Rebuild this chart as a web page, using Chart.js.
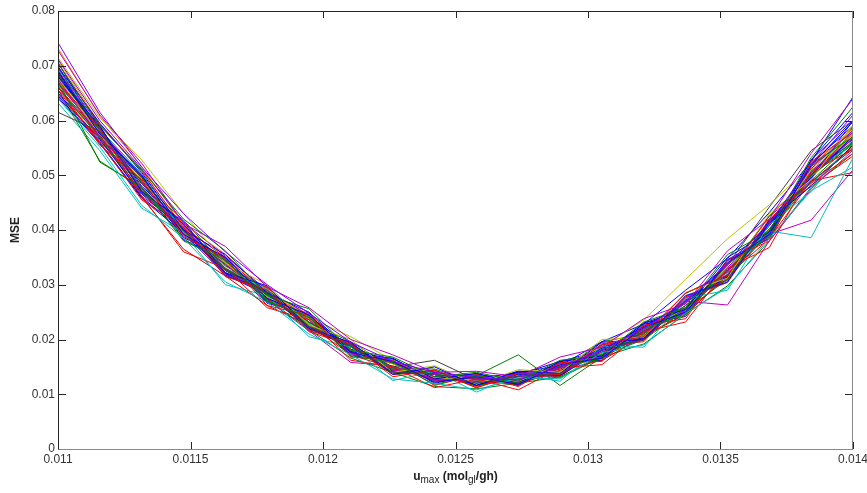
<!DOCTYPE html>
<html><head><meta charset="utf-8">
<script src="https://cdn.jsdelivr.net/npm/chart.js@4"></script>
<style>
html,body{margin:0;padding:0;background:#fff;}
#wrap{position:relative;width:867px;height:493px;}
canvas{display:block;}
#xt{position:absolute;left:58px;width:795px;top:469px;text-align:center;font:bold 12px "Liberation Sans",Arial,sans-serif;color:#222;line-height:14px;}
#xt sub{font-weight:normal;font-size:10px;line-height:0;}
</style></head>
<body>
<div id="wrap"><canvas id="c" width="867" height="493"></canvas>
<div id="xt">u<sub>max</sub> (mol<sub>gl</sub>/gh)</div></div>
<script>
// x positions of the 20 sampled u_max values
const uMax = [0.011, 0.0111579, 0.0113158, 0.0114737, 0.0116316, 0.0117895, 0.0119474, 0.0121053, 0.0122632, 0.0124211,
              0.0125789, 0.0127368, 0.0128947, 0.0130526, 0.0132105, 0.0133684, 0.0135263, 0.0136842, 0.0138421, 0.014];
const xTickValues = [0.011, 0.0115, 0.012, 0.0125, 0.013, 0.0135, 0.014];
const xTickLabels = ['0.011', '0.0115', '0.012', '0.0125', '0.013', '0.0135', '0.014'];
const yTickValues = [0, 0.01, 0.02, 0.03, 0.04, 0.05, 0.06, 0.07, 0.08];
const yTickLabels = ['0', '0.01', '0.02', '0.03', '0.04', '0.05', '0.06', '0.07', '0.08'];

// MSE curves (one per run)
const run01 = [0.0742,0.0615,0.0515,0.0430,0.0360,0.0300,0.0248,0.0195,0.0160,0.0140,0.0130,0.0126,0.0150,0.0180,0.0220,0.0270,0.0338,0.0412,0.0520,0.0610];
const run02 = [0.0615,0.0580,0.0478,0.0398,0.0326,0.0285,0.0222,0.0188,0.0140,0.0138,0.0120,0.0133,0.0138,0.0182,0.0200,0.0270,0.0310,0.0415,0.0488,0.0548];
const run03 = [0.0690,0.0575,0.0500,0.0392,0.0350,0.0275,0.0245,0.0176,0.0160,0.0122,0.0132,0.0118,0.0154,0.0166,0.0222,0.0250,0.0340,0.0392,0.0518,0.0598];
const run04 = [0.0655,0.0560,0.0455,0.0405,0.0315,0.0290,0.0218,0.0192,0.0132,0.0144,0.0112,0.0138,0.0136,0.0192,0.0205,0.0285,0.0318,0.0425,0.0485,0.0540];
const run05 = [0.0705,0.0590,0.0510,0.0420,0.0362,0.0280,0.0256,0.0180,0.0168,0.0132,0.0140,0.0124,0.0162,0.0172,0.0232,0.0258,0.0355,0.0398,0.0532,0.0625];
const run06 = [0.0640,0.0552,0.0445,0.0385,0.0305,0.0268,0.0210,0.0172,0.0128,0.0120,0.0108,0.0130,0.0128,0.0176,0.0190,0.0248,0.0295,0.0385,0.0472,0.0515];
const run07 = [0.0728,0.0610,0.0522,0.0412,0.0370,0.0296,0.0258,0.0200,0.0172,0.0140,0.0142,0.0132,0.0168,0.0186,0.0238,0.0265,0.0362,0.0420,0.0540,0.0640];
const run08 = [0.0672,0.0524,0.0478,0.0380,0.0345,0.0270,0.0240,0.0170,0.0158,0.0118,0.0134,0.0120,0.0152,0.0165,0.0220,0.0246,0.0338,0.0388,0.0520,0.0570];
const run09 = [0.0680,0.0590,0.0470,0.0415,0.0322,0.0298,0.0220,0.0195,0.0136,0.0150,0.0116,0.0142,0.0138,0.0195,0.0200,0.0280,0.0305,0.0418,0.0480,0.0555];
const run10 = [0.0662,0.0555,0.0492,0.0388,0.0348,0.0262,0.0244,0.0168,0.0162,0.0116,0.0136,0.0114,0.0158,0.0160,0.0226,0.0238,0.0345,0.0380,0.0525,0.0578];
const run11 = [0.0715,0.0605,0.0528,0.0430,0.0340,0.0300,0.0226,0.0200,0.0140,0.0152,0.0118,0.0145,0.0140,0.0200,0.0204,0.0286,0.0312,0.0430,0.0492,0.0592];
const run12 = [0.0670,0.0585,0.0462,0.0360,0.0330,0.0258,0.0236,0.0162,0.0150,0.0112,0.0128,0.0108,0.0148,0.0154,0.0214,0.0232,0.0330,0.0368,0.0505,0.0548];
const run13 = [0.0632,0.0545,0.0440,0.0395,0.0300,0.0280,0.0205,0.0186,0.0125,0.0142,0.0104,0.0135,0.0124,0.0188,0.0186,0.0275,0.0290,0.0410,0.0470,0.0565];
const run14 = [0.0698,0.0595,0.0505,0.0400,0.0355,0.0285,0.0250,0.0178,0.0165,0.0128,0.0138,0.0120,0.0160,0.0170,0.0230,0.0255,0.0350,0.0396,0.0528,0.0600];
const run15 = [0.0688,0.0585,0.0484,0.0410,0.0330,0.0286,0.0232,0.0190,0.0150,0.0162,0.0126,0.0128,0.0150,0.0176,0.0214,0.0262,0.0326,0.0402,0.0502,0.0562];
const run16 = [0.0660,0.0568,0.0470,0.0402,0.0328,0.0284,0.0226,0.0187,0.0146,0.0138,0.0134,0.0172,0.0116,0.0168,0.0210,0.0256,0.0326,0.0398,0.0500,0.0556];
const run17 = [0.0678,0.0574,0.0492,0.0396,0.0340,0.0278,0.0238,0.0180,0.0155,0.0130,0.0126,0.0124,0.0152,0.0186,0.0236,0.0310,0.0384,0.0446,0.0518,0.0585];
const run18 = [0.0668,0.0576,0.0475,0.0404,0.0328,0.0286,0.0226,0.0188,0.0144,0.0136,0.0120,0.0132,0.0138,0.0178,0.0200,0.0270,0.0263,0.0380,0.0475,0.0546];
const run19 = [0.0666,0.0580,0.0476,0.0406,0.0330,0.0290,0.0228,0.0190,0.0146,0.0138,0.0121,0.0133,0.0140,0.0182,0.0206,0.0268,0.0320,0.0398,0.0386,0.0532];
const run20 = [0.0676,0.0570,0.0490,0.0394,0.0340,0.0276,0.0236,0.0178,0.0156,0.0127,0.0128,0.0121,0.0150,0.0170,0.0214,0.0252,0.0325,0.0392,0.0418,0.0510];
const run21 = [0.0684,0.0578,0.0495,0.0398,0.0344,0.0280,0.0240,0.0182,0.0158,0.0129,0.0130,0.0122,0.0152,0.0172,0.0218,0.0258,0.0336,0.0442,0.0545,0.0600];
const run22 = [0.0650,0.0565,0.0466,0.0400,0.0322,0.0286,0.0222,0.0190,0.0142,0.0138,0.0118,0.0134,0.0136,0.0184,0.0202,0.0272,0.0314,0.0410,0.0495,0.0572];
const run23 = [0.0690,0.0580,0.0496,0.0398,0.0342,0.0274,0.0218,0.0166,0.0140,0.0114,0.0110,0.0120,0.0132,0.0170,0.0200,0.0254,0.0310,0.0396,0.0490,0.0560];
const run24 = [0.0672,0.0580,0.0478,0.0405,0.0330,0.0292,0.0240,0.0205,0.0162,0.0137,0.0132,0.0126,0.0152,0.0174,0.0218,0.0256,0.0330,0.0400,0.0510,0.0576];
const run25 = [0.0692,0.0582,0.0498,0.0396,0.0338,0.0272,0.0216,0.0158,0.0152,0.0126,0.0124,0.0122,0.0148,0.0168,0.0216,0.0254,0.0328,0.0396,0.0508,0.0566];
const run26 = [0.0704,0.0592,0.0508,0.0405,0.0350,0.0282,0.0244,0.0182,0.0158,0.0130,0.0131,0.0123,0.0154,0.0172,0.0222,0.0258,0.0336,0.0400,0.0515,0.0586];
const run27 = [0.0645,0.0560,0.0460,0.0398,0.0320,0.0284,0.0220,0.0188,0.0142,0.0136,0.0118,0.0136,0.0138,0.0186,0.0204,0.0272,0.0318,0.0412,0.0500,0.0588];
const run28 = [0.0662,0.0574,0.0460,0.0365,0.0316,0.0262,0.0226,0.0172,0.0148,0.0126,0.0124,0.0118,0.0144,0.0162,0.0206,0.0246,0.0318,0.0392,0.0505,0.0566];
const run29 = [0.0712,0.0600,0.0512,0.0414,0.0352,0.0290,0.0244,0.0186,0.0158,0.0132,0.0130,0.0124,0.0152,0.0172,0.0216,0.0256,0.0332,0.0400,0.0512,0.0582];
const run30 = [0.0666,0.0578,0.0472,0.0404,0.0326,0.0288,0.0224,0.0190,0.0144,0.0136,0.0116,0.0128,0.0130,0.0168,0.0192,0.0246,0.0298,0.0380,0.0478,0.0540];
const run31 = [0.0678,0.0588,0.0480,0.0410,0.0330,0.0292,0.0226,0.0192,0.0146,0.0140,0.0124,0.0140,0.0152,0.0196,0.0228,0.0290,0.0348,0.0432,0.0525,0.0643];
const run32 = [0.0674,0.0568,0.0490,0.0392,0.0340,0.0274,0.0238,0.0176,0.0156,0.0128,0.0130,0.0120,0.0152,0.0168,0.0208,0.0246,0.0316,0.0384,0.0490,0.0505];
const run33 = [0.0656,0.0572,0.0468,0.0402,0.0326,0.0290,0.0224,0.0192,0.0144,0.0140,0.0122,0.0138,0.0140,0.0186,0.0204,0.0270,0.0316,0.0410,0.0498,0.0578];
const run34 = [0.0696,0.0584,0.0502,0.0400,0.0346,0.0280,0.0242,0.0180,0.0158,0.0128,0.0128,0.0120,0.0150,0.0168,0.0214,0.0250,0.0326,0.0390,0.0502,0.0558];
const run35 = [0.0642,0.0558,0.0458,0.0394,0.0318,0.0282,0.0220,0.0186,0.0140,0.0136,0.0116,0.0132,0.0134,0.0180,0.0200,0.0268,0.0314,0.0408,0.0496,0.0568];
const run36 = [0.0686,0.0580,0.0498,0.0396,0.0344,0.0276,0.0238,0.0178,0.0156,0.0128,0.0132,0.0136,0.0160,0.0180,0.0224,0.0266,0.0338,0.0410,0.0518,0.0598];
const run37 = [0.0710,0.0594,0.0510,0.0404,0.0350,0.0284,0.0244,0.0182,0.0158,0.0130,0.0120,0.0134,0.0138,0.0182,0.0204,0.0268,0.0316,0.0408,0.0498,0.0575];
const run38 = [0.0660,0.0572,0.0468,0.0404,0.0326,0.0290,0.0224,0.0190,0.0144,0.0140,0.0122,0.0136,0.0140,0.0184,0.0204,0.0270,0.0318,0.0412,0.0504,0.0584];
const run39 = [0.0656,0.0526,0.0476,0.0384,0.0338,0.0272,0.0238,0.0176,0.0156,0.0126,0.0130,0.0118,0.0150,0.0166,0.0216,0.0250,0.0330,0.0392,0.0506,0.0560];
const run40 = [0.0732,0.0608,0.0516,0.0410,0.0356,0.0286,0.0246,0.0182,0.0160,0.0130,0.0128,0.0122,0.0150,0.0170,0.0216,0.0256,0.0332,0.0396,0.0508,0.0570];
const run41 = [0.0668,0.0585,0.0472,0.0412,0.0320,0.0296,0.0216,0.0194,0.0138,0.0144,0.0114,0.0140,0.0134,0.0190,0.0198,0.0278,0.0308,0.0420,0.0488,0.0552];
const run42 = [0.0700,0.0566,0.0498,0.0382,0.0348,0.0266,0.0246,0.0170,0.0164,0.0120,0.0136,0.0116,0.0158,0.0162,0.0228,0.0242,0.0344,0.0384,0.0522,0.0590];
const run43 = [0.0685,0.0575,0.0486,0.0418,0.0334,0.0294,0.0230,0.0196,0.0148,0.0146,0.0122,0.0142,0.0142,0.0196,0.0210,0.0284,0.0322,0.0426,0.0498,0.0580];
const run44 = [0.0650,0.0562,0.0486,0.0390,0.0342,0.0270,0.0240,0.0174,0.0160,0.0124,0.0134,0.0118,0.0156,0.0166,0.0224,0.0248,0.0340,0.0386,0.0516,0.0574];
const run45 = [0.0695,0.0590,0.0468,0.0408,0.0328,0.0292,0.0222,0.0192,0.0142,0.0142,0.0118,0.0138,0.0136,0.0190,0.0202,0.0276,0.0312,0.0416,0.0492,0.0600];
const run46 = [0.0664,0.0560,0.0494,0.0392,0.0346,0.0272,0.0242,0.0176,0.0162,0.0122,0.0136,0.0116,0.0158,0.0164,0.0226,0.0244,0.0342,0.0388,0.0518,0.0565];
const run47 = [0.0676,0.0586,0.0474,0.0410,0.0326,0.0294,0.0222,0.0192,0.0140,0.0144,0.0116,0.0140,0.0136,0.0192,0.0200,0.0280,0.0308,0.0418,0.0486,0.0550];
const run48 = [0.0706,0.0578,0.0500,0.0386,0.0350,0.0268,0.0248,0.0172,0.0166,0.0124,0.0138,0.0120,0.0160,0.0166,0.0230,0.0246,0.0346,0.0388,0.0528,0.0615];
const run49 = [0.0646,0.0568,0.0462,0.0406,0.0316,0.0292,0.0214,0.0190,0.0136,0.0142,0.0112,0.0136,0.0132,0.0188,0.0196,0.0276,0.0304,0.0414,0.0482,0.0535];
const run50 = [0.0682,0.0582,0.0488,0.0400,0.0336,0.0282,0.0232,0.0182,0.0150,0.0132,0.0126,0.0128,0.0146,0.0176,0.0212,0.0262,0.0324,0.0400,0.0500,0.0570];

const runs = [run01,run02,run03,run04,run05,run06,run07,run08,run09,run10,run11,run12,run13,run14,run15,run16,run17,run18,run19,run20,
              run21,run22,run23,run24,run25,run26,run27,run28,run29,run30,run31,run32,run33,run34,run35,run36,run37,run38,run39,run40,
              run41,run42,run43,run44,run45,run46,run47,run48,run49,run50];
const runColors = ['#8000ff','#404040','#0000ff','#ff0000','#008000','#00bfbf','#bf00bf','#008000','#0000ff','#ff0000',
                   '#bfbf00','#ff0000','#00bfbf','#0000ff','#404040','#008000','#bfbf00','#bf00bf','#00bfbf','#bf00bf',
                   '#404040','#0000ff','#008000','#99cc00','#bf00bf','#ff0000','#0000ff','#cc0000','#8000ff','#008000',
                   '#0000ff','#ff0000','#bf00bf','#008080','#0000cc','#0000ff','#ff8000','#00bfbf','#008000','#ff8000',
                   '#ff0000','#0000ff','#008000','#bf00bf','#8000ff','#bfbf00','#00bfbf','#0000ff','#ff0000','#404040'];

const FONT = '"Liberation Sans", Arial, sans-serif';

const matlabAxes = {
  id: 'matlabAxes',
  afterDraw(chart) {
    const {ctx, chartArea: a, scales: {x, y}} = chart;
    ctx.save();
    ctx.lineWidth = 1;
    ctx.strokeStyle = '#262626';
    ctx.beginPath();
    x.ticks.forEach(t => {
      const px = Math.round(x.getPixelForValue(t.value)) + 0.5;
      ctx.moveTo(px, a.bottom); ctx.lineTo(px, a.bottom - 7);
      ctx.moveTo(px, a.top); ctx.lineTo(px, a.top + 7);
    });
    y.ticks.forEach(t => {
      const py = Math.round(y.getPixelForValue(t.value)) + 0.5;
      ctx.moveTo(a.left, py); ctx.lineTo(a.left + 8, py);
      ctx.moveTo(a.right, py); ctx.lineTo(a.right - 8, py);
    });
    ctx.stroke();
    ctx.beginPath();
    ctx.moveTo(a.left + 0.5, a.bottom + 0.5); ctx.lineTo(a.left + 0.5, a.top + 0.5); ctx.lineTo(a.right - 0.5, a.top + 0.5);
    ctx.stroke();
    ctx.strokeStyle = '#8a8a8a';
    ctx.beginPath();
    ctx.moveTo(a.left + 0.5, a.bottom + 0.5); ctx.lineTo(a.right - 0.5, a.bottom + 0.5); ctx.lineTo(a.right - 0.5, a.top + 0.5);
    ctx.stroke();
    ctx.restore();
  }
};

new Chart(document.getElementById('c'), {
  type: 'line',
  data: {
    datasets: runs.map((r, i) => ({
      data: r.map((v, k) => ({x: uMax[k], y: v})),
      borderColor: runColors[i],
      borderWidth: 1,
      pointRadius: 0,
      tension: 0,
      fill: false
    }))
  },
  options: {
    responsive: false,
    animation: false,
    events: [],
    layout: {padding: {top: 11, right: 14, left: 0, bottom: 0}},
    plugins: {legend: {display: false}, tooltip: {enabled: false}},
    scales: {
      x: {
        type: 'linear', min: 0.011, max: 0.014,
        grid: {display: false, drawTicks: false},
        border: {display: false},
        afterBuildTicks: s => { s.ticks = xTickValues.map(v => ({value: v})); },
        afterFit: s => { s.height = 44; s.paddingLeft = 0; s.paddingRight = 0; },
        ticks: {
          autoSkip: false, maxRotation: 0, padding: 3,
          color: '#333', font: {family: FONT, size: 12},
          callback: (v, i) => xTickLabels[i]
        }
      },
      y: {
        type: 'linear', min: 0, max: 0.08,
        grid: {display: false, drawTicks: false},
        border: {display: false},
        afterBuildTicks: s => { s.ticks = yTickValues.map(v => ({value: v})); },
        afterFit: s => { s.width = 58; s.paddingTop = 0; s.paddingBottom = 0; },
        title: {display: true, text: 'MSE', color: '#222', font: {family: FONT, size: 12, weight: 'bold'}, padding: {top: 8, bottom: 0}},
        ticks: {
          autoSkip: false, padding: 3,
          color: '#333', font: {family: FONT, size: 12},
          callback: (v, i) => yTickLabels[i]
        }
      }
    }
  },
  plugins: [matlabAxes]
});
</script>
</body></html>
